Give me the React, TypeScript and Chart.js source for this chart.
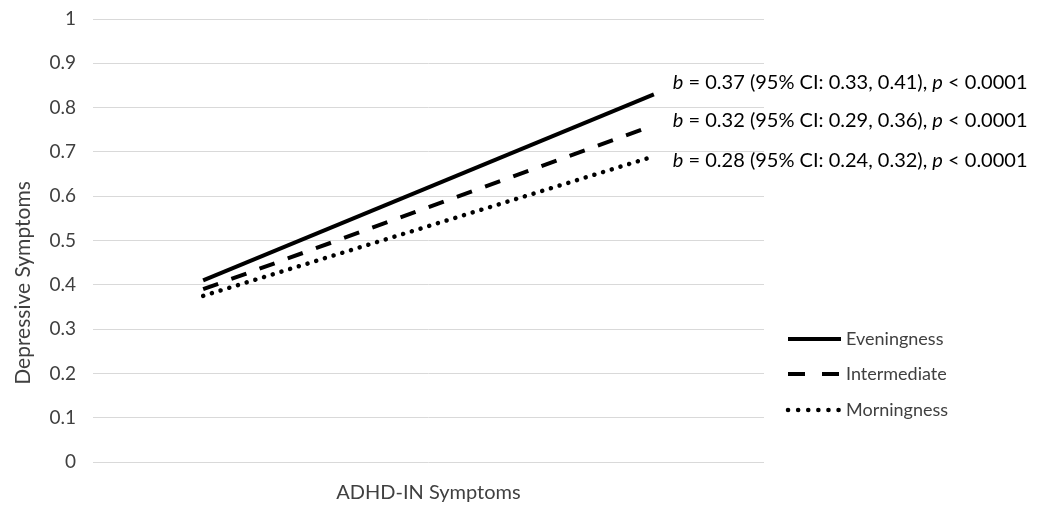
import React, { useEffect, useRef } from "react";
import { Chart, registerables } from "chart.js";

Chart.register(...registerables);

const seriesNames = ["Eveningness", "Intermediate", "Morningness"];
const xValues = [0, 1];
const evening = [0.41, 0.83];
const intermediate = [0.39, 0.76];
const morning = [0.375, 0.69];
const yTickLabels = ["0", "0.1", "0.2", "0.3", "0.4", "0.5", "0.6", "0.7", "0.8", "0.9", "1"];
const bValues = ["0.37", "0.32", "0.28"];
const ciLow = ["0.33", "0.29", "0.24"];
const ciHigh = ["0.41", "0.36", "0.32"];
const pValues = ["0.0001", "0.0001", "0.0001"];
const labelY = [0.857, 0.771, 0.681];
const yTitle = "Depressive Symptoms";
const xTitle = "ADHD-IN Symptoms";

const FONT = "Lato";
const dashes: number[][] = [[], [16, 14], [0.1, 9]];
const caps: CanvasLineCap[] = ["butt", "butt", "round"];
const legendDashes: number[][] = [[], [17, 17], [0.1, 10]];

const overlay = {
  id: "overlay",
  afterDraw(chart: any) {
    const ctx = chart.ctx as CanvasRenderingContext2D;
    const xs = chart.scales.x;
    const ys = chart.scales.y;
    ctx.save();
    // y title
    ctx.fillStyle = "#404040";
    ctx.font = `21px ${FONT}`;
    ctx.textAlign = "center";
    ctx.textBaseline = "middle";
    ctx.translate(23, 283);
    ctx.rotate(-Math.PI / 2);
    ctx.fillText(yTitle, 0, 0);
    ctx.restore();

    // annotations
    ctx.save();
    ctx.fillStyle = "#000000";
    ctx.textBaseline = "middle";
    ctx.textAlign = "left";
    const size = 20;
    for (let i = 0; i < bValues.length; i++) {
      let x = xs.getPixelForValue(xValues[1]) + 19;
      const y = ys.getPixelForValue(labelY[i]);
      const parts: [string, boolean][] = [
        ["b", true],
        [` = ${bValues[i]} (95% CI: ${ciLow[i]}, ${ciHigh[i]}), `, false],
        ["p", true],
        [` < ${pValues[i]}`, false],
      ];
      for (const [t, it] of parts) {
        ctx.font = `${it ? "italic " : ""}${size}px ${FONT}`;
        ctx.fillText(t, x, y);
        x += ctx.measureText(t).width;
      }
    }
    ctx.restore();

    // legend
    ctx.save();
    const lx0 = 788;
    const lx1 = 841;
    const ly = [339, 374, 410];
    for (let i = 0; i < seriesNames.length; i++) {
      ctx.beginPath();
      ctx.strokeStyle = "#000000";
      ctx.lineWidth = i === 2 ? 4.5 : 4;
      ctx.lineCap = caps[i];
      ctx.setLineDash(legendDashes[i]);
      ctx.moveTo(lx0, ly[i]);
      ctx.lineTo(lx1, ly[i]);
      ctx.stroke();
      ctx.setLineDash([]);
      ctx.fillStyle = "#404040";
      ctx.font = `18px ${FONT}`;
      ctx.textBaseline = "middle";
      ctx.textAlign = "left";
      ctx.fillText(seriesNames[i], 846, ly[i]);
    }
    ctx.restore();
  },
};

export default function App() {
  const ref = useRef<HTMLCanvasElement>(null);
  useEffect(() => {
    if (!ref.current) return;
    const data = [evening, intermediate, morning];
    const chart = new Chart(ref.current, {
      type: "line",
      data: {
        datasets: data.map((vals, i) => ({
          label: seriesNames[i],
          data: vals.map((v, j) => ({ x: xValues[j], y: v })),
          borderColor: "#000000",
          borderWidth: i === 2 ? 4.5 : 4,
          borderDash: dashes[i],
          borderCapStyle: caps[i],
          pointRadius: 0,
          fill: false,
          tension: 0,
        })),
      },
      options: {
        animation: false,
        responsive: true,
        maintainAspectRatio: false,
        layout: { padding: { left: 0, top: 19, right: 276, bottom: 0 } },
        plugins: { legend: { display: false }, tooltip: { enabled: false } },
        scales: {
          x: {
            type: "linear",
            min: -0.2444,
            max: 1.2444,
            grid: { display: false },
            border: { display: false },
            ticks: { display: false },
            title: {
              display: true,
              text: xTitle,
              color: "#404040",
              font: { family: FONT, size: 20 },
              padding: { top: 0, bottom: 1 },
            },
            afterFit: (s: any) => {
              s.height = 44;
            },
          },
          y: {
            min: 0,
            max: 1,
            grid: { color: "#d9d9d9", lineWidth: 1, drawTicks: false },
            border: { display: false },
            ticks: {
              stepSize: 0.1,
              padding: 17,
              color: "#404040",
              font: { family: FONT, size: 19 },
              callback: (_v: any, i: number) => yTickLabels[i],
            },
            afterFit: (s: any) => {
              s.width = 93;
              s.paddingTop = 0;
              s.paddingBottom = 0;
            },
          },
        },
      },
      plugins: [overlay],
    });
    return () => chart.destroy();
  }, []);
  return (
    <div style={{ position: "absolute", left: 0, top: 0, width: 1040, height: 506, background: "#fff" }}>
      <canvas ref={ref} />
    </div>
  );
}
